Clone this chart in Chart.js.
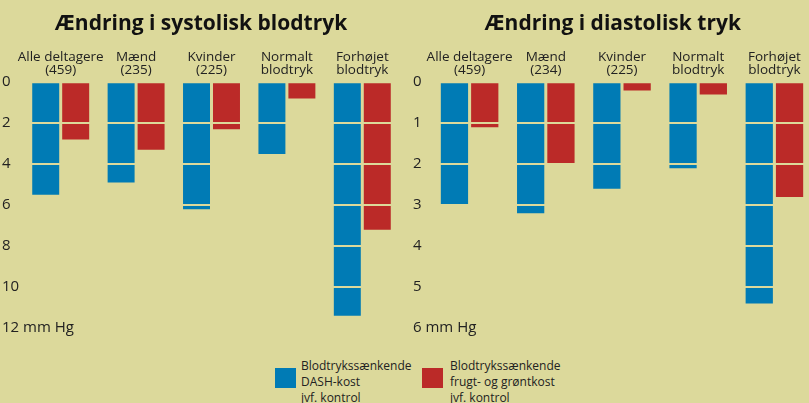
<!DOCTYPE html>
<html>
<head>
<meta charset="utf-8">
<script src="https://cdn.jsdelivr.net/npm/chart.js@4"></script>
<style>
html, body { margin:0; padding:0; background:#dcd99b; overflow:hidden; width:809px; height:403px; }
.box { position:absolute; top:0; }
.sq { position:absolute; width:21px; height:20px; }
.txt { position:absolute; font-family:'Open Sans', sans-serif; font-size:12px; line-height:16px; color:#222; white-space:nowrap; }
</style>
</head>
<body>
<div class="box" style="left:0px"><canvas id="sys" width="403" height="340"></canvas></div>
<div class="box" style="left:413px"><canvas id="dia" width="414" height="340"></canvas></div>

<div class="sq" style="left:275px;top:368px;background:#007bb5"></div>
<div class="txt" style="left:301px;top:358px">Blodtrykssænkende<br>DASH-kost<br>jvf. kontrol</div>
<div class="sq" style="left:422px;top:368px;background:#bb2a28"></div>
<div class="txt" style="left:450px;top:358px">Blodtrykssænkende<br>frugt- og grøntkost<br>jvf. kontrol</div>

<script>
// kategorier
var sysLabels = [['Alle deltagere','(459)'], ['Mænd','(235)'], ['Kvinder','(225)'], ['Normalt','blodtryk'], ['Forhøjet','blodtryk']]
var diaLabels = [['Alle deltagere','(459)'], ['Mænd','(234)'], ['Kvinder','(225)'], ['Normalt','blodtryk'], ['Forhøjet','blodtryk']]

// fald i mm Hg
var sysDash = [5.5, 4.9, 6.2, 3.5, 11.4]
var sysFrugt = [2.8, 3.3, 2.3, 0.8, 7.2]
var diaDash = [3.0, 3.2, 2.6, 2.1, 5.4]
var diaFrugt = [1.1, 2.0, 0.2, 0.3, 2.8]

var seriesNames = ['Blodtrykssænkende DASH-kost jvf. kontrol', 'Blodtrykssænkende frugt- og grøntkost jvf. kontrol']

var bg = '#dcd99b'
var blue = '#007bb5'
var red = '#bb2a28'

function makeChart(id, title, labels, dash, frugt, max, step, axisW, padL, padR) {
    var ctx = document.getElementById(id)
    return new Chart(ctx, {
        type: 'bar',
        data: {
            labels: labels,
            datasets: [{
                label: seriesNames[0],
                data: dash,
                backgroundColor: blue,
                borderWidth: 0
            }, {
                label: seriesNames[1],
                data: frugt,
                backgroundColor: red,
                borderWidth: 0
            }]
        },
        options: {
            responsive: false,
            animation: false,
            categoryPercentage: 0.795,
            barPercentage: 0.9,
            layout: { padding: { left: padL, right: padR, top: 0, bottom: 12 } },
            plugins: {
                legend: { display: false },
                tooltip: { enabled: false },
                title: {
                    display: true,
                    text: title,
                    color: '#111',
                    font: { family: 'Open Sans', size: 21, weight: 'bold' },
                    padding: { top: 11, bottom: 0 }
                }
            },
            scales: {
                x: {
                    position: 'top',
                    grid: { display: false, drawTicks: false },
                    border: { display: false },
                    ticks: {
                        color: '#222',
                        font: { family: 'Open Sans', size: 13.5, lineHeight: 0.92 },
                        padding: 6,
                        maxRotation: 0,
                        autoSkip: false
                    },
                    afterFit: function(scale) { scale.height = 46 }
                },
                y: {
                    reverse: true,
                    min: 0,
                    max: max,
                    grid: {
                        // linjer i baggrundsfarve henover søjlerne
                        color: function(c) { return c.tick && c.tick.value === max ? 'rgba(0,0,0,0)' : bg },
                        lineWidth: 2,
                        drawTicks: false,
                        z: 1
                    },
                    border: { display: false },
                    ticks: {
                        stepSize: step,
                        mirror: true,
                        crossAlign: 'near',
                        padding: -axisW,
                        color: '#222',
                        font: { family: 'Open Sans', size: 15 },
                        callback: function(v) { return v === max ? v + ' mm Hg' : v }
                    },
                    afterFit: function(scale) { scale.width = axisW }
                }
            }
        }
    })
}

makeChart('sys', 'Ændring i systolisk blodtryk', sysLabels, sysDash, sysFrugt, 12, 2, 21, 2, 3)
makeChart('dia', 'Ændring i diastolisk tryk', diaLabels, diaDash, diaFrugt, 6, 1, 18.5, 0, 14.5)
</script>
</body>
</html>
